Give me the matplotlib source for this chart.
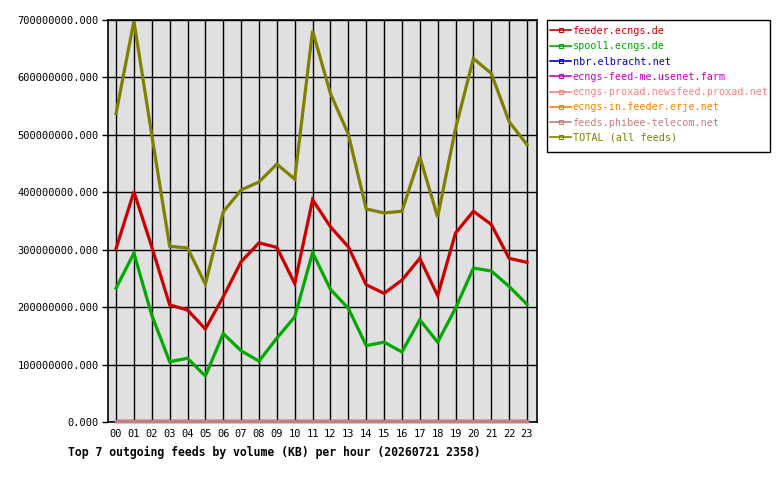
import matplotlib
matplotlib.use("Agg")
import matplotlib.pyplot as plt
import matplotlib.transforms as mtransforms
from matplotlib.lines import Line2D
from matplotlib.patches import Rectangle
from matplotlib.ticker import FuncFormatter, MultipleLocator

hours = ["00", "01", "02", "03", "04", "05", "06", "07", "08", "09", "10", "11",
         "12", "13", "14", "15", "16", "17", "18", "19", "20", "21", "22", "23"]

feeder_ecngs = [302, 401, 305, 204, 195, 162, 218, 279, 312, 304, 241, 387,
                340, 305, 239, 224, 247, 285, 220, 329, 367, 344, 285, 278]
spool1_ecngs = [233, 294, 186, 105, 111, 80, 154, 124, 106, 146, 183, 295,
                231, 198, 133, 139, 122, 178, 139, 198, 268, 263, 236, 205]
nbr_elbracht = [0] * 24
feed_me = [0] * 24
proxad = [0] * 24
erje = [0] * 24
phibee = [0] * 24
total = [537, 698, 500, 306, 303, 240, 366, 404, 418, 449, 423, 681,
         572, 501, 371, 364, 367, 462, 357, 511, 633, 607, 523, 483]

labels = ["feeder.ecngs.de", "spool1.ecngs.de", "nbr.elbracht.net",
          "ecngs-feed-me.usenet.farm", "ecngs-proxad.newsfeed.proxad.net",
          "ecngs-in.feeder.erje.net", "feeds.phibee-telecom.net",
          "TOTAL (all feeds)"]
colors = ["#cc0000", "#00aa00", "#0000cc", "#cc00cc", "#ff8080",
          "#ff8000", "#c08080", "#808000"]
series = [feeder_ecngs, spool1_ecngs, nbr_elbracht, feed_me, proxad, erje, phibee, total]

mono = "DejaVu Sans Mono"
W, H = 780, 480
fig = plt.figure(figsize=(7.8, 4.8), dpi=100)
ax = fig.add_axes([108 / W, 1 - 422 / H, (537 - 108) / W, (422 - 20) / H])
ax.set_facecolor("#e0e0e0")

# lines lying on the x axis sit just above it, like the reference renderer
shift = mtransforms.ScaledTranslation(0, 1.5 / 100, fig.dpi_scale_trans)
x = list(range(len(hours)))
for vals, col in zip(series, colors):
    tr = ax.transData + shift if max(vals) == 0 else ax.transData
    ax.plot(x, [v * 1e6 for v in vals], color=col, linewidth=2.3,
            solid_joinstyle="miter", zorder=3, clip_on=False, transform=tr)

ax.set_xlim(-0.45, 23.56)
ax.set_ylim(0, 700e6)
ax.set_xticks(x)
ax.set_xticklabels(hours, fontfamily=mono, fontsize=7.5)
ax.yaxis.set_major_locator(MultipleLocator(100e6))
ax.yaxis.set_major_formatter(FuncFormatter(lambda v, p: "%.3f" % v))
for lab in ax.get_yticklabels():
    lab.set_fontfamily(mono)
ax.tick_params(axis="y", length=4, width=1, pad=2.5, labelsize=7.5, colors="black")
ax.tick_params(axis="x", length=0, pad=5, labelsize=7.5)
ax.grid(True, color="black", linewidth=1.0, zorder=1)
ax.set_axisbelow(True)
for sp in ax.spines.values():
    sp.set_color("black")
    sp.set_linewidth(1.2)
    sp.set_zorder(2)

# legend frame
fig.patches.append(Rectangle((547 / W, 1 - 152 / H), (770 - 547) / W, (152 - 20) / H,
                             transform=fig.transFigure, facecolor="white",
                             edgecolor="black", linewidth=1.0, zorder=0))

handles = [Line2D([0], [0], color=c, linewidth=1.2, marker="s", markersize=2.5,
                  markerfacecolor="none", markeredgecolor=c, markeredgewidth=0.8)
           for c in colors]
leg = fig.legend(handles, labels, loc="upper left",
                 bbox_to_anchor=(550 / W, 1 - 26 / H), borderaxespad=0,
                 frameon=False, prop={"family": mono, "size": 7.3},
                 handlelength=2.1, handletextpad=0.15, labelspacing=0.52,
                 borderpad=0)
for t, c in zip(leg.get_texts(), colors):
    t.set_color(c)

fig.text(68 / W, 1 - 452 / H,
         "Top 7 outgoing feeds by volume (KB) per hour (20260721 2358)",
         fontfamily=mono, fontweight="bold", fontsize=8.3, ha="left", va="center")

fig.savefig("out.png", dpi=100)
